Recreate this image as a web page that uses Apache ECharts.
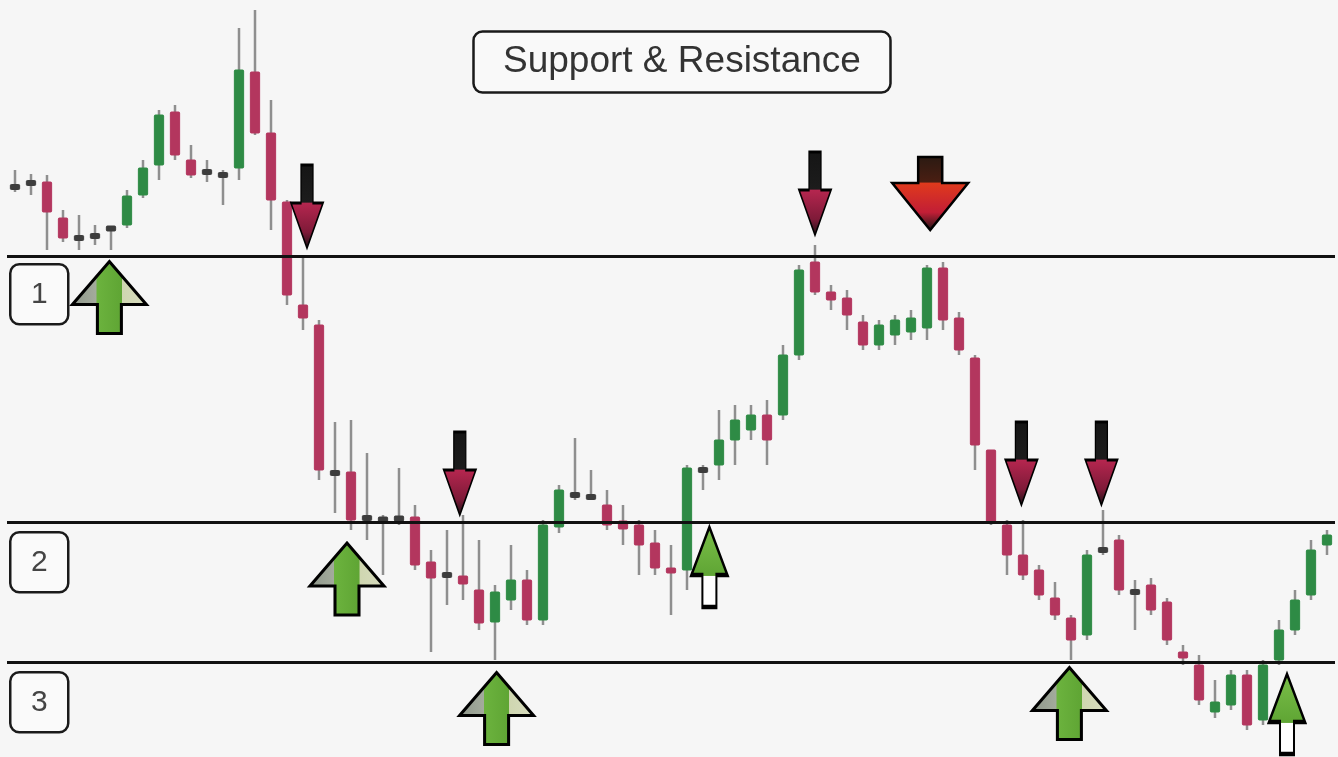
<!DOCTYPE html>
<html>
<head>
<meta charset="utf-8">
<title>Support & Resistance</title>
<script src="https://cdn.jsdelivr.net/npm/echarts@6/dist/echarts.min.js"></script>
<style>
  html, body { margin: 0; padding: 0; background: #f6f6f6; }
  #chart { width: 1338px; height: 757px; }
</style>
</head>
<body>
<div id="chart"></div>
<script>
// candle prices (one entry per bar)
const openP  = [57.1, 57.3, 57.5, 53.9, 52.0, 52.2, 52.7, 53.2, 56.2, 59.2, 64.5, 59.7, 58.6, 58.1, 58.9, 68.5, 62.4, 55.5, 45.2, 43.2,
                28.5, 28.5, 24.1, 23.9, 24.0, 24.0, 19.5, 18.3, 18.1, 16.7, 13.5, 15.7, 17.7, 13.7, 23.0, 26.3, 26.1, 25.2, 23.6, 23.2,
                21.4, 18.9, 18.7, 28.6, 29.2, 31.7, 32.7, 34.2, 34.2, 40.2, 49.5, 46.5, 45.9, 43.5, 41.2, 42.2, 42.5, 42.9, 48.9, 43.9,
                39.9, 30.7, 23.2, 20.2, 18.7, 15.9, 13.9, 12.2, 20.8, 21.7, 16.6, 17.2, 15.5, 10.5, 9.2, 4.5, 5.2, 8.2, 3.7, 9.7,
                12.7, 16.2, 21.2];
const closeP = [56.9, 57.5, 54.5, 51.9, 51.8, 52.0, 53.0, 56.1, 58.9, 64.2, 60.2, 58.2, 58.4, 58.3, 68.7, 62.4, 55.7, 46.2, 43.9, 28.7,
                28.3, 23.7, 23.7, 23.6, 23.7, 19.2, 17.9, 18.1, 17.3, 13.4, 16.5, 17.7, 13.7, 23.2, 26.7, 26.1, 25.9, 23.2, 22.8, 21.2,
                18.9, 18.4, 28.9, 28.8, 31.7, 33.7, 34.2, 31.7, 40.2, 48.7, 46.5, 45.7, 44.2, 41.2, 43.2, 43.7, 43.9, 48.9, 43.7, 40.7,
                31.2, 23.5, 20.2, 18.2, 16.2, 14.2, 11.7, 20.2, 20.6, 16.7, 16.4, 14.7, 11.7, 9.9, 5.7, 5.5, 8.2, 3.2, 9.2, 12.7,
                15.7, 20.7, 22.2];
const highP  = [58.7, 58.3, 58.2, 54.7, 54.2, 53.2, 53.1, 56.7, 59.7, 64.7, 65.2, 61.2, 59.7, 58.7, 72.9, 74.7, 65.7, 55.7, 50.2, 43.7,
                33.5, 33.7, 30.4, 24.2, 28.9, 25.2, 20.7, 22.7, 24.2, 21.7, 17.2, 21.2, 18.7, 23.7, 27.2, 31.9, 28.7, 26.7, 25.2, 23.7,
                22.7, 21.2, 29.2, 29.2, 34.7, 35.2, 35.2, 35.7, 41.2, 49.2, 51.2, 47.2, 46.7, 44.2, 43.7, 44.2, 44.7, 49.2, 49.5, 44.5,
                40.2, 30.7, 23.7, 23.7, 19.2, 17.5, 14.2, 20.7, 24.7, 22.2, 17.7, 17.9, 15.9, 11.2, 10.2, 7.7, 8.7, 8.7, 9.7, 13.7,
                16.7, 21.7, 22.7];
const lowP   = [56.5, 56.2, 50.7, 51.5, 50.7, 51.2, 50.7, 52.9, 55.9, 57.7, 59.7, 57.9, 57.5, 55.2, 57.7, 62.2, 52.7, 45.2, 42.7, 27.7,
                24.4, 22.7, 21.7, 18.2, 23.2, 18.7, 10.5, 15.2, 15.7, 12.7, 9.7, 14.7, 13.2, 13.2, 22.4, 25.7, 25.7, 22.7, 21.2, 18.2,
                18.2, 14.2, 16.7, 26.7, 27.7, 29.2, 31.7, 29.2, 33.7, 39.7, 46.2, 44.7, 42.7, 40.7, 40.7, 41.2, 41.7, 41.7, 42.7, 40.2,
                28.7, 23.2, 18.2, 17.7, 15.7, 13.7, 9.7, 11.7, 20.2, 16.2, 12.7, 14.2, 11.2, 9.2, 5.2, 3.9, 4.7, 2.7, 3.2, 9.2,
                12.2, 15.7, 20.2];

// support / resistance levels 1, 2, 3
const levels = [50.1, 23.5, 9.5];
const levelNames = ['1', '2', '3'];

// arrow anchors: [bar position, price]
const upArrowsBig   = [[5.9, 45.95], [20.75, 17.8], [30.1, 4.85], [65.9, 5.35]];
const upArrowsSmall = [[43.4, 19.0], [79.5, 4.3]];
const downArrows    = [[18.25, 55.05], [27.8, 28.35], [50.0, 56.35], [62.9, 29.35], [67.9, 29.35]];
const downArrowsBig = [[57.2, 56.35]];

const candles = openP.map((o, i) => [i, o, closeP[i], lowP[i], highP[i]]);

const chart = echarts.init(document.getElementById('chart'));

function renderCandle(params, api) {
  const x = api.value(0);
  const o = api.value(1), c = api.value(2), l = api.value(3), h = api.value(4);
  const top = api.coord([x, h]);
  const bot = api.coord([x, l]);
  const bodyTop = api.coord([x, Math.max(o, c)]);
  const bodyBot = api.coord([x, Math.min(o, c)]);
  const w = api.size([1, 0])[0] * 0.58;
  let color = c >= o ? '#2e8b45' : '#b3365e';
  if (Math.abs(c - o) < 0.5) color = '#3d3d3d';
  const bh = Math.max(bodyBot[1] - bodyTop[1], 5);
  return {
    type: 'group',
    children: [
      {
        type: 'line',
        shape: { x1: top[0], y1: top[1], x2: bot[0], y2: bot[1] },
        style: { stroke: '#8f8f8f', lineWidth: 2.5 }
      },
      {
        type: 'rect',
        shape: { x: bodyTop[0] - w / 2, y: (bodyTop[1] + bodyBot[1]) / 2 - bh / 2, width: w, height: bh, r: 1 },
        style: { fill: color, stroke: color, lineWidth: 1 }
      }
    ]
  };
}

const grad = (stops) => new echarts.graphic.LinearGradient(0, 0, 0, 1,
  stops.map(s => ({ offset: s[0], color: s[1] })));

const option = {
  backgroundColor: '#f6f6f6',
  animation: false,
  title: {
    text: 'Support & Resistance',
    left: 473,
    top: 31,
    padding: [12, 30],
    borderColor: '#1a1a1a',
    borderWidth: 2.5,
    borderRadius: 9,
    backgroundColor: '#f9f9f9',
    textStyle: {
      fontFamily: 'Liberation Sans',
      fontSize: 37,
      fontWeight: 'normal',
      color: '#333',
      lineHeight: 38
    }
  },
  grid: { left: 7, right: 3, top: 0, bottom: 0 },
  xAxis: {
    type: 'value',
    min: -0.5,
    max: 82.5,
    show: false
  },
  yAxis: {
    type: 'value',
    min: 0,
    max: 75.7,
    show: false
  },
  series: [
    {
      name: 'price',
      type: 'custom',
      renderItem: renderCandle,
      encode: { x: 0, y: [1, 2, 3, 4] },
      data: candles,
      markLine: {
        silent: true,
        symbol: 'none',
        label: { show: false },
        lineStyle: { color: '#111', width: 3, type: 'solid' },
        data: levels.map(v => ({ yAxis: v }))
      },
      z: 2
    },
    {
      name: 'support',
      type: 'scatter',
      symbol: 'path://M0,43 L37,0 L74,43 L49,43 L49,72 L25,72 L25,43 Z',
      symbolSize: [74, 72],
      itemStyle: {
        opacity: 1,
        color: new echarts.graphic.LinearGradient(0, 0, 1, 0, [
          { offset: 0, color: '#8e968a' }, { offset: 0.33, color: '#a3ab9c' },
          { offset: 0.335, color: '#6cb33e' }, { offset: 0.66, color: '#5fa534' },
          { offset: 0.665, color: '#cfd6b0' }, { offset: 1, color: '#d8dcc0' }
        ]),
        borderColor: '#000',
        borderWidth: 3
      },
      data: upArrowsBig,
      z: 5
    },
    {
      name: 'support small',
      type: 'scatter',
      symbol: 'path://M0,48 L18,0 L36,48 L25,48 L25,80 L11,80 L11,48 Z',
      symbolSize: [36, 80],
      itemStyle: {
        opacity: 1,
        color: grad([[0, '#7cc04a'], [0.6, '#5fa534'], [0.61, '#ffffff'], [1, '#ffffff']]),
        borderColor: '#000',
        borderWidth: 3
      },
      data: upArrowsSmall,
      z: 5
    },
    {
      name: 'resistance',
      type: 'scatter',
      symbol: 'path://M10,0 L22,0 L22,38 L32,38 L16,83 L0,38 L10,38 Z',
      symbolSize: [32, 83],
      itemStyle: {
        opacity: 1,
        color: grad([[0, '#151515'], [0.45, '#1c1c1c'], [0.46, '#b5264f'], [0.8, '#7e1a38'], [1, '#111']]),
        borderColor: '#000',
        borderWidth: 2
      },
      data: downArrows,
      z: 5
    },
    {
      name: 'resistance big',
      type: 'scatter',
      symbol: 'path://M26,0 L50,0 L50,26 L76,26 L38,73 L0,26 L26,26 Z',
      symbolSize: [76, 73],
      itemStyle: {
        opacity: 1,
        color: grad([[0, '#2a1a12'], [0.35, '#4a1e12'], [0.36, '#e03a1c'], [0.75, '#c21e36'], [1, '#151515']]),
        borderColor: '#000',
        borderWidth: 2.5
      },
      data: downArrowsBig,
      z: 5
    }
  ],
  graphic: [263, 531, 671].map((y, i) => ({
    type: 'group',
    left: 9,
    top: y,
    children: [
      {
        type: 'rect',
        shape: { x: 0, y: 0, width: 58, height: 60, r: 9 },
        style: { fill: '#fafafa', stroke: '#1a1a1a', lineWidth: 2.5 }
      },
      {
        type: 'text',
        x: 29,
        y: 30,
        style: {
          text: levelNames[i],
          fontFamily: 'Liberation Sans',
          fontSize: 30,
          fill: '#444',
          align: 'center',
          verticalAlign: 'middle'
        }
      }
    ]
  }))
};

chart.setOption(option);
</script>
</body>
</html>
